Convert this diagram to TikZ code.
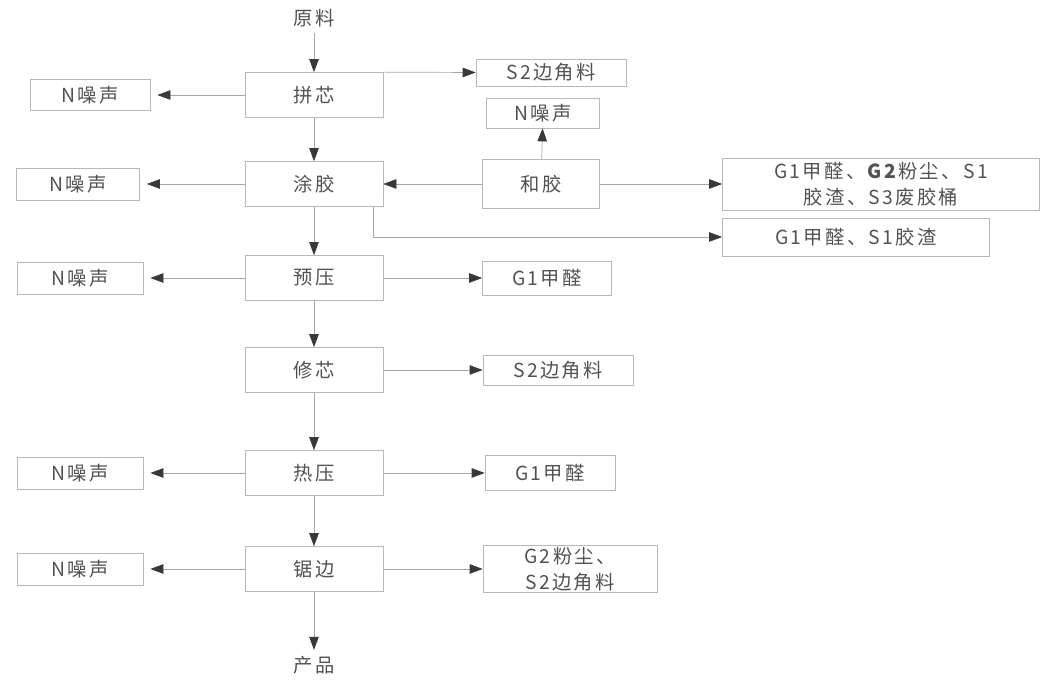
\documentclass[tikz,border=0pt]{standalone}
\usepackage{fontspec}
\setmainfont[LetterSpace=12]{Noto Sans CJK SC}
\usetikzlibrary{arrows.meta}

\begin{document}
\begin{tikzpicture}[
	font = \fontsize{11}{15}\selectfont,
	every node/.style = {text = black!68},
	box/.style = {draw = black!28, inner sep = 0pt, align = center},
	flow/.style = {draw = black!35, -{Triangle[length=2.6mm,width=1.9mm,black!78,fill=black!78]}},
	]
	\useasboundingbox (0,0) rectangle (21.18,13.6);
	% main line
	\node (yl) at (6.28,13.24) {原料};
	\node [box, minimum width = 2.76cm, minimum height = 0.9cm] (px) at (6.28,11.7) {拼芯};
	\node [box, minimum width = 2.76cm, minimum height = 0.9cm] (tj) at (6.28,9.92) {涂胶};
	\node [box, minimum width = 2.76cm, minimum height = 0.9cm] (yy) at (6.28,8.04) {预压};
	\node [box, minimum width = 2.76cm, minimum height = 0.9cm] (xx) at (6.28,6.2) {修芯};
	\node [box, minimum width = 2.76cm, minimum height = 0.9cm] (ry) at (6.28,4.14) {热压};
	\node [box, minimum width = 2.76cm, minimum height = 0.9cm] (jb) at (6.28,2.22) {锯边};
	\node (cp) at (6.28,0.3) {产品};
	% noise, left
	\node [box, minimum width = 2.4cm, minimum height = 0.62cm] (n1) at (1.8,11.7) {N噪声};
	\node [box, minimum width = 2.46cm, minimum height = 0.64cm] (n2) at (1.56,9.92) {N噪声};
	\node [box, minimum width = 2.52cm, minimum height = 0.64cm] (n3) at (1.6,8.04) {N噪声};
	\node [box, minimum width = 2.52cm, minimum height = 0.64cm] (n4) at (1.6,4.14) {N噪声};
	\node [box, minimum width = 2.52cm, minimum height = 0.64cm] (n5) at (1.6,2.22) {N噪声};
	% right side
	\node [box, minimum width = 3.0cm, minimum height = 0.54cm] (s2a) at (11.02,12.15) {S2边角料};
	\node [box, minimum width = 2.26cm, minimum height = 0.6cm] (n6) at (10.86,11.34) {N噪声};
	\node [box, minimum width = 2.34cm, minimum height = 0.98cm] (hj) at (10.82,9.92) {和胶};
	\node [box, minimum width = 6.34cm, minimum height = 1.04cm] (gg) at (17.62,9.92) {G1甲醛、\textbf{G2}粉尘、S1\\胶渣、S3废胶桶};
	\node [box, minimum width = 5.34cm, minimum height = 0.76cm] (gs) at (17.12,8.86) {G1甲醛、S1胶渣};
	\node [box, minimum width = 2.58cm, minimum height = 0.68cm] (g1a) at (10.94,8.04) {G1甲醛};
	\node [box, minimum width = 3.0cm, minimum height = 0.6cm] (s2b) at (11.16,6.2) {S2边角料};
	\node [box, minimum width = 2.6cm, minimum height = 0.7cm] (g1b) at (11.0,4.14) {G1甲醛};
	\node [box, minimum width = 3.48cm, minimum height = 0.94cm] (gs2) at (11.4,2.22) {G2粉尘、\\S2边角料};

	\draw [flow] (yl) -- (px);
	\draw [flow] (px) -- (tj);
	\draw [flow] (tj) -- (yy);
	\draw [flow] (yy) -- (xx);
	\draw [flow] (xx) -- (ry);
	\draw [flow] (ry) -- (jb);
	\draw [flow] (jb) -- (cp);

	\draw [flow, shorten >= 4pt] (px) -- (n1);
	\draw [flow, shorten >= 4pt] (tj) -- (n2);
	\draw [flow, shorten >= 4pt] (yy) -- (n3);
	\draw [flow, shorten >= 4pt] (ry) -- (n4);
	\draw [flow, shorten >= 4pt] (jb) -- (n5);

	\draw [flow] (px.north east) -- (s2a.west);
	\draw [flow] (hj) -- (n6);
	\draw [flow] (hj) -- (tj);
	\draw [flow] (hj) -- (gg);
	\draw [flow] ([xshift=-0.2cm]tj.south east) |- (gs.west);
	\draw [flow] (yy) -- (g1a);
	\draw [flow] (xx) -- (s2b);
	\draw [flow] (ry) -- (g1b);
	\draw [flow] (jb) -- (gs2);
\end{tikzpicture}
\end{document}
